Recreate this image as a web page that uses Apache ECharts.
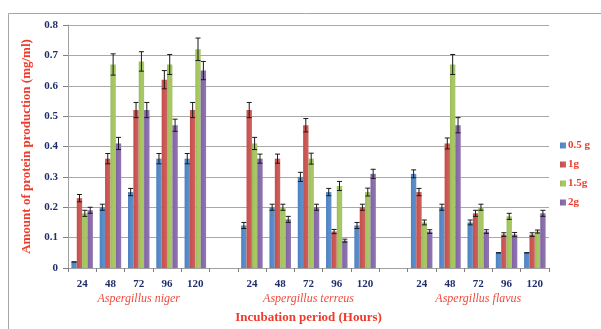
<!DOCTYPE html>
<html>
<head>
<meta charset="utf-8">
<script src="https://cdn.jsdelivr.net/npm/echarts@6/dist/echarts.min.js"></script>
<style>html,body{margin:0;padding:0;background:#fff;}#c{width:601px;height:329px;}</style>
</head>
<body>
<div id="c"></div>
<script>
const hours = ['24', '48', '72', '96', '120'];
const species = ['Aspergillus niger', 'Aspergillus terreus', 'Aspergillus flavus'];
const doses = ['0.5 g', '1g', '1.5g', '2g'];
const colors = ['#4F81BD', '#C0504D', '#9BBB59', '#8064A2'];

// values: niger(24..120), terreus(24..120), flavus(24..120)
const v05 = [0.02, 0.20, 0.25, 0.36, 0.36,  0.14, 0.20, 0.30, 0.25, 0.14,  0.31, 0.20, 0.15, 0.05, 0.05];
const v1  = [0.23, 0.36, 0.52, 0.62, 0.52,  0.52, 0.36, 0.47, 0.12, 0.20,  0.25, 0.41, 0.18, 0.11, 0.11];
const v15 = [0.18, 0.67, 0.68, 0.67, 0.72,  0.41, 0.20, 0.36, 0.27, 0.25,  0.15, 0.67, 0.20, 0.17, 0.12];
const v2  = [0.19, 0.41, 0.52, 0.47, 0.65,  0.36, 0.16, 0.20, 0.09, 0.31,  0.12, 0.47, 0.12, 0.11, 0.18];

const e05 = [0.000, 0.010, 0.012, 0.017, 0.017,  0.010, 0.010, 0.015, 0.012, 0.010,  0.013, 0.010, 0.008, 0.000, 0.000];
const e1  = [0.012, 0.017, 0.025, 0.030, 0.025,  0.025, 0.015, 0.022, 0.007, 0.010,  0.012, 0.018, 0.010, 0.006, 0.006];
const e15 = [0.010, 0.035, 0.032, 0.033, 0.037,  0.020, 0.010, 0.018, 0.015, 0.013,  0.008, 0.033, 0.010, 0.010, 0.005];
const e2  = [0.010, 0.020, 0.025, 0.020, 0.030,  0.015, 0.010, 0.010, 0.005, 0.015,  0.006, 0.025, 0.006, 0.007, 0.010];

const values = [v05, v1, v15, v2];
const errors = [e05, e1, e15, e2];

// Build category axis with an empty gap category between species groups
const cats = [];
const groupLabels = [];
const idxMap = []; // data index -> category index
species.forEach((sp, g) => {
  if (g > 0) { cats.push(''); groupLabels.push(''); }
  hours.forEach((h, k) => {
    idxMap.push(cats.length);
    cats.push(h);
    groupLabels.push(k === 2 ? sp : '');
  });
});

function expand(arr) {
  const out = cats.map(() => '-');
  arr.forEach((v, i) => { out[idxMap[i]] = v; });
  return out;
}

const catGap = 0.24;
const serif = '"Liberation Serif", "DejaVu Serif", serif';

const series = [];
doses.forEach((d, i) => {
  series.push({
    name: d,
    type: 'bar',
    data: expand(values[i]),
    barGap: '0%',
    barCategoryGap: (catGap * 100) + '%',
    itemStyle: {
      color: new echarts.graphic.LinearGradient(0, 0, 1, 0, [
        { offset: 0, color: colors[i] },
        { offset: 0.5, color: echarts.color.lift(colors[i], -0.08) },
        { offset: 1, color: echarts.color.lift(colors[i], 0.12) }
      ])
    }
  });
});
doses.forEach((d, i) => {
  series.push({
    type: 'custom',
    silent: true,
    z: 10,
    data: values[i].map((v, j) => [idxMap[j], v, errors[i][j]]),
    renderItem: function (params, api) {
      const ci = api.value(0), v = api.value(1), e = api.value(2);
      const c = api.coord([ci, v]);
      const bw = api.size([1, 0])[0];
      const total = bw * (1 - catGap);
      const barW = total / 4;
      const x = c[0] - total / 2 + barW * (i + 0.5);
      const yTop = api.coord([ci, v + e])[1];
      const yBot = api.coord([ci, v - e])[1];
      const cap = 2.5;
      const st = { stroke: '#1a1a1a', lineWidth: 1 };
      return {
        type: 'group',
        children: [
          { type: 'line', shape: { x1: x, y1: yTop, x2: x, y2: yBot }, style: st },
          { type: 'line', shape: { x1: x - cap, y1: yTop, x2: x + cap, y2: yTop }, style: st },
          { type: 'line', shape: { x1: x - cap, y1: yBot, x2: x + cap, y2: yBot }, style: st }
        ]
      };
    }
  });
});

const chart = echarts.init(document.getElementById('c'), null, { renderer: 'canvas' });
chart.setOption({
  animation: false,
  backgroundColor: '#ffffff',
  graphic: [{
    type: 'rect',
    shape: { x: 8.5, y: 13.5, width: 700, height: 400 },
    style: { fill: 'none', stroke: '#A6A6A6', lineWidth: 1 },
    silent: true, z: -10
  }],
  grid: { left: 68, right: 52, top: 25, bottom: 56 },
  legend: {
    orient: 'vertical',
    left: 555,
    top: 134,
    itemWidth: 6,
    itemHeight: 6,
    itemGap: 6,
    icon: 'rect',
    data: doses,
    textStyle: { color: '#EE3B2B', fontFamily: serif, fontWeight: 'bold', fontSize: 11, lineHeight: 13, padding: [0, 0, 0, -3] }
  },
  xAxis: [{
    type: 'category',
    data: cats,
    axisLine: { lineStyle: { color: '#A0A0A0' } },
    axisTick: { show: true, length: 4, lineStyle: { color: '#808080' } },
    axisLabel: { interval: 0, color: '#1F2D6B', fontFamily: serif, fontWeight: 'bold', fontSize: 11, margin: 11 },
    name: 'Incubation period (Hours)',
    nameLocation: 'middle',
    nameGap: 43,
    nameTextStyle: { color: '#EE3B2B', fontFamily: serif, fontWeight: 'bold', fontSize: 13 }
  }, {
    type: 'category',
    data: groupLabels,
    position: 'bottom',
    offset: 0,
    axisLine: { show: false },
    axisTick: { show: false },
    axisLabel: { interval: 0, color: '#F04B3C', fontFamily: serif, fontStyle: 'italic', fontSize: 12, margin: 25 }
  }],
  yAxis: {
    type: 'value',
    min: 0, max: 0.8, interval: 0.1,
    name: 'Amount of protein production (mg/ml)',
    nameLocation: 'middle',
    nameGap: 32,
    nameTextStyle: { color: '#EE3B2B', fontFamily: serif, fontWeight: 'bold', fontSize: 13 },
    axisLine: { show: true, lineStyle: { color: '#A0A0A0' } },
    axisTick: { show: true, length: 5, lineStyle: { color: '#808080' } },
    axisLabel: { color: '#1F2D6B', fontFamily: serif, fontWeight: 'bold', fontSize: 11, margin: 10,
      formatter: v => (v === 0 ? '0' : v.toFixed(1)) },
    splitLine: { lineStyle: { color: '#A8A8A8', width: 1 } }
  },
  series: series
});
</script>
</body>
</html>
